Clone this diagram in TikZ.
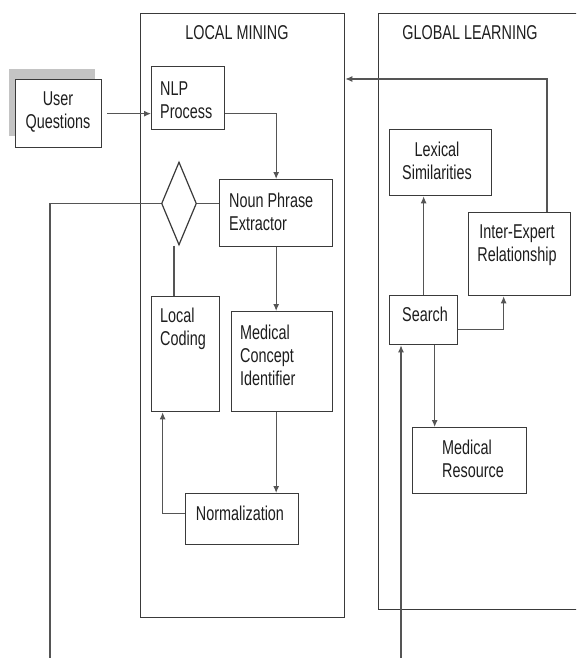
\documentclass[tikz,border=0pt]{standalone}
\usepackage{fontspec}
\setmainfont[FakeStretch=0.72]{Liberation Sans}
\usetikzlibrary{arrows.meta,shapes.geometric}
\definecolor{boxc}{HTML}{3A3A3A}
\definecolor{linec}{HTML}{555555}
\definecolor{txtc}{HTML}{1E1E1E}
\definecolor{shadowc}{HTML}{C4C4C4}
\tikzset{
  box/.style={draw=boxc, line width=1.3pt, fill=white, inner sep=0pt, anchor=north west},
  conn/.style={draw=linec, line width=1.1pt},
  arr/.style={conn, -{Latex[length=7pt,width=6pt]}},
  txt/.style={inner sep=0pt, text=txtc, font=\fontsize{20}{23}\selectfont},
  ltxt/.style={txt, align=left, anchor=north west},
  ctxt/.style={txt, align=center, anchor=north},
}
\begin{document}
\begin{tikzpicture}[x=1pt,y=-1pt]
\useasboundingbox (0,0) rectangle (576,658);
\clip (0,0) rectangle (576,658);
% containers
\node[box, fill=none, minimum width=204, minimum height=604] (lm) at (140,13) {};
\node[ctxt] (lmt) at (237,25) {LOCAL MINING};
\node[box, fill=none, minimum width=230, minimum height=596] (gl) at (378,13) {};
\node[ctxt] (glt) at (470,25) {GLOBAL LEARNING};
% user questions with shadow
\node[box, draw=none, fill=shadowc, minimum width=86, minimum height=67] (uqs) at (8,68) {};
\node[box, minimum width=86, minimum height=68] (uq) at (15,79) {};
\node[ctxt] (uqt) at (58,92) {User\\Questions};
% local mining boxes
\node[box, minimum width=73, minimum height=63] (nlp) at (151,66) {};
\node[ltxt] (nlpt) at (160,82) {NLP\\Process};
\node[box, minimum width=113, minimum height=67] (npe) at (219,179) {};
\node[ltxt] (npet) at (229,193) {Noun Phrase\\Extractor};
\node[draw=boxc, line width=1.2pt, fill=white, shape=diamond, aspect=0.42, inner sep=0pt, minimum width=35, minimum height=83] (dia) at (179,203.5) {};
\node[box, minimum width=68, minimum height=115] (lc) at (151,296) {};
\node[ltxt] (lct) at (160,308) {Local\\Coding};
\node[box, minimum width=101, minimum height=100] (mci) at (231,311) {};
\node[ltxt] (mcit) at (240,325) {Medical\\Concept\\Identifier};
\node[box, minimum width=113, minimum height=51] (norm) at (185,493) {};
\node[ctxt] (normt) at (240,506) {Normalization};
% global learning boxes
\node[box, minimum width=102, minimum height=66] (lex) at (389,129) {};
\node[ctxt] (lext) at (437,142) {Lexical\\Similarities};
\node[box, minimum width=102, minimum height=83] (ie) at (468,212) {};
\node[ctxt] (iet) at (517,225) {Inter-Expert\\Relationship};
\node[box, minimum width=68, minimum height=49] (srch) at (389,295) {};
\node[ctxt] (srcht) at (425,307) {Search};
\node[box, minimum width=114, minimum height=66] (mr) at (412,427) {};
\node[ltxt] (mrt) at (442,440) {Medical\\Resource};
% free ends
\coordinate (bl) at (50,658);
\coordinate (br) at (401,658);
\coordinate (fb) at (547,79);
% connectors
\draw[arr] ([xshift=5pt]uq.east) -- (uq.east -| nlp.west);
\draw[arr] ([yshift=-15.5pt]nlp.east) -| (npe.north);
\draw[conn] (dia.east) -- (dia.east -| npe.west);
\draw[conn] (dia.west) -| (bl);
\draw[conn] ([xshift=-5pt]dia.south) -- ([xshift=-5pt]dia.south |- lc.north);
\draw[arr] (npe.south) -- (npe.south |- mci.north);
\draw[arr] (npe.south |- mci.south) -- (npe.south |- norm.north);
\draw[arr] ([yshift=6pt]norm.west) -| ([xshift=-23pt]lc.south);
\draw[arr] (srch.north) -- (srch.north |- lex.south);
\draw[arr] ([yshift=-9.5pt]srch.east) -| ([xshift=-16pt]ie.south);
\draw[arr] ([xshift=11pt]srch.south) -- ([xshift=11pt]srch.south |- mr.north);
\draw[arr] (ie.north -| fb) -- (fb) -- (fb -| lm.east);
\draw[arr] (br) -- (br |- srch.south);
\end{tikzpicture}
\end{document}
